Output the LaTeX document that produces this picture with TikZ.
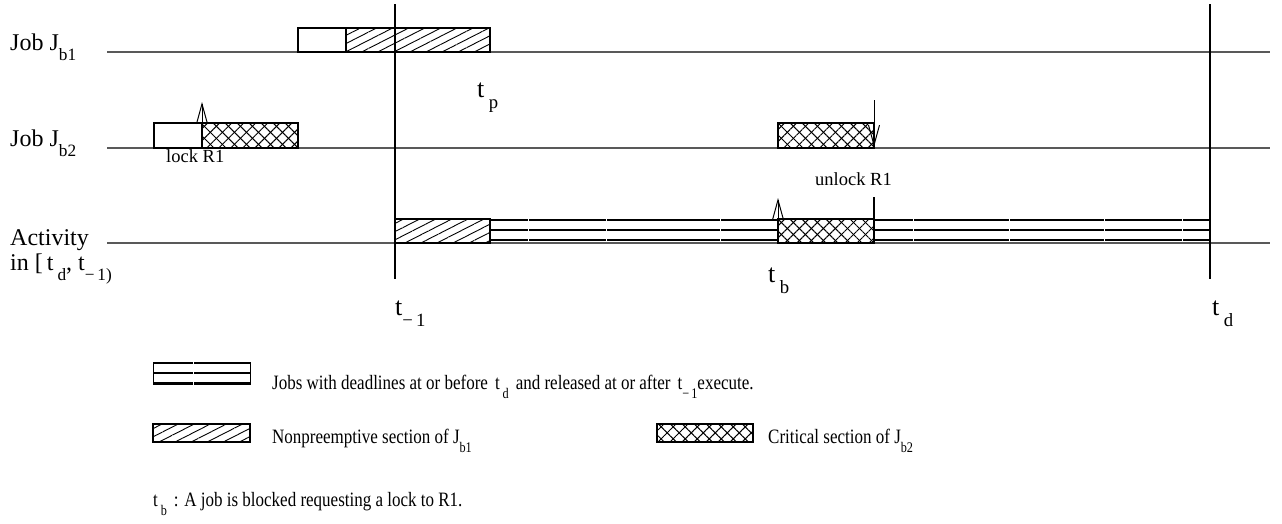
\documentclass[tikz,border=0pt]{standalone}
\usepackage{fontspec}
\setmainfont{Liberation Serif}
\usetikzlibrary{patterns.meta,arrows.meta}
\newcommand{\dn}[1]{\raisebox{-0.45em}{\scalebox{0.72}{#1}}}
\newcommand{\tall}[1]{\scalebox{1}[1.2]{#1}}

\begin{document}
\begin{tikzpicture}[x=1pt,y=-1pt,
    base/.style={draw=black!65, line width=1.5pt},
    tline/.style={draw=black, line width=1.5pt},
    free/.style={draw=black, line width=1.2pt, fill=white},
    hatch/.style={draw=black, line width=1.2pt,
        pattern={Lines[angle=27,distance=7.3pt,line width=0.9pt]}},
    xhatch/.style={draw=black, line width=1.2pt,
        pattern={Lines[angle=45,distance=8.5pt,line width=1pt]},
        postaction={pattern={Lines[angle=-45,distance=8.5pt,line width=1pt]}}},
    bar/.style={draw=black, line width=2.6pt},
    gap/.style={draw=white, line width=1pt},
    arr/.style={draw=black, line width=1pt, -{Straight Barb[length=20pt,width=11pt]}},
    lbl/.style={font=\fontsize{24}{28}\selectfont, inner sep=0pt},
    tlbl/.style={font=\fontsize{26}{30}\selectfont, inner sep=0pt},
    small/.style={font=\fontsize{18.5}{22}\selectfont, inner sep=0pt},
    leg/.style={font=\fontsize{17}{20}\selectfont, inner sep=0pt}]
    \useasboundingbox (0,0) rectangle (1282,523);

    % Time lines of the three rows
    \foreach \y in {52,148,243} \draw[base] (107,\y) -- (1270,\y);

    % Row labels
    \node[lbl, anchor=base west] (jb1) at (10,50) {Job J\dn{b1}};
    \node[lbl, anchor=base west] (jb2) at (10,146) {Job J\dn{b2}};
    \node[lbl, anchor=base west] (act) at (10,245) {Activity};
    \node[lbl, anchor=base west] (intv) at (10,270) {in [\,t\,\dn{d}, t\dn{−\,1)}};

    % Job J_b1
    \draw[free] (298,28) rectangle (346,52);
    \draw[hatch] (346,28) rectangle (490,52);

    % Job J_b2
    \draw[free] (154,123) rectangle (202,148);
    \draw[xhatch] (202,123) rectangle (298,148);
    \draw[xhatch] (778,123) rectangle (874,148);
    \draw[arr] (202,124) -- (202,102);
    \draw[arr] (874,100) -- (874,147);
    \node[small, anchor=base west] (lock) at (166,162) {lock R1};
    \node[small, anchor=base west] (unlock) at (815,185) {unlock R1};

    % Activity in [t_d, t_-1)
    \draw[hatch] (395,219) rectangle (490,243);
    \draw[xhatch] (778,219) rectangle (874,243);
    \foreach \a/\b in {490/778, 874/1210}
        \foreach \y in {220,230,240} \draw[bar] (\a,\y) -- (\b,\y);
    \foreach \x in {528,606,720,913,1009,1104,1182} \draw[gap] (\x,218) -- (\x,242);
    \draw[arr] (778,219) -- (778,198);
    \draw[tline, line width=1.2pt] (874,197) -- (874,243);

    % Instants
    \draw[tline] (395,4) -- (395,279);
    \draw[tline] (1210,4) -- (1210,279);
    \node[tlbl, anchor=base west] (tp) at (477,97) {t\,\dn{p}};
    \node[tlbl, anchor=base west] (tb) at (768,282) {t\,\dn{b}};
    \node[tlbl, anchor=base west] (tm) at (395,315) {t\dn{−\,1}};
    \node[tlbl, anchor=base west] (td) at (1212,315) {t\,\dn{d}};

    % Legend
    \draw[draw=black, line width=1pt] (153,362) rectangle (250,384);
    \foreach \y in {363,373,383} \draw[bar] (153,\y) -- (250,\y);
    \draw[gap] (193,361) -- (193,385);
    \node[leg, anchor=base west] (legjobs) at (272,389)
        {\tall{Jobs with deadlines at or before \,t\,\dn{d}\, and released at or after \,t\dn{−\,1}execute.}};
    \draw[hatch] (153,424) rectangle (250,442);
    \node[leg, anchor=base west] (leghatch) at (272,443) {\tall{Nonpreemptive section of J\dn{b1}}};
    \draw[xhatch] (657,424) rectangle (753,442);
    \node[leg, anchor=base west] (legcrit) at (768,443) {\tall{Critical section of J\dn{b2}}};
    \node[leg, anchor=base west] (legtb) at (153,506) {\tall{t\,\dn{b}\, : A job is blocked requesting a lock to R1.}};
\end{tikzpicture}
\end{document}
